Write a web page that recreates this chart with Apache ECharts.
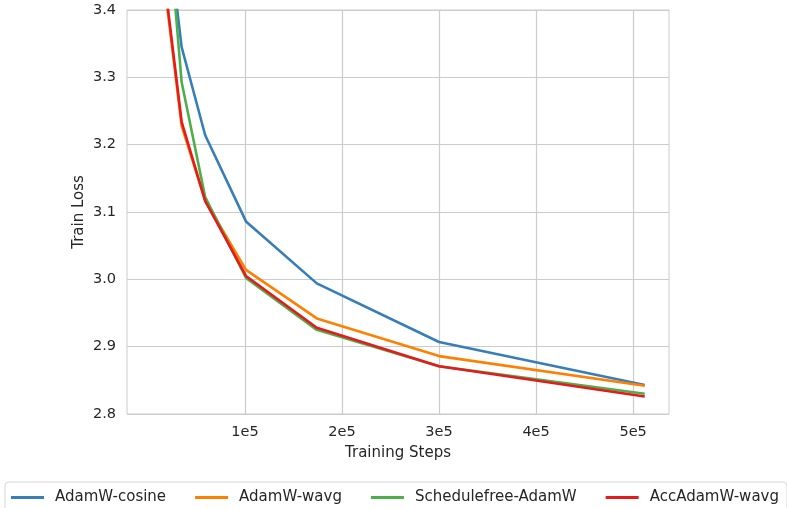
<!DOCTYPE html>
<html>
<head>
<meta charset="utf-8">
<script src="https://cdn.jsdelivr.net/npm/echarts@6/dist/echarts.min.js"></script>
<style>
  html, body { margin: 0; padding: 0; background: #fff; }
  #chart { width: 787px; height: 508px; }
</style>
</head>
<body>
<div id="chart"></div>
<script>
// training steps at which loss was logged
const steps = [11900, 20300, 34700, 59000, 101000, 174000, 300000, 512000];

const adamwCosine = [3.85, 3.52, 3.345, 3.214, 3.086, 2.994, 2.907, 2.843];
const adamwWavg = [3.70, 3.40, 3.228, 3.117, 3.014, 2.942, 2.886, 2.842];
const schedulefree = [3.80, 3.54, 3.293, 3.122, 3.002, 2.925, 2.871, 2.830];
const accAdamwWavg = [3.72, 3.405, 3.234, 3.116, 3.005, 2.928, 2.871, 2.826];

const xTicks = [100000, 200000, 300000, 400000, 500000];

const pairs = ys => steps.map((s, i) => [s, ys[i]]);

const font = 'DejaVu Sans';
const gridColor = '#cccccc';

const mkSeries = (name, ys, color) => ({
  name,
  type: 'line',
  data: pairs(ys),
  showSymbol: false,
  symbol: 'none',
  clip: true,
  lineStyle: { color, width: 2.6 },
  itemStyle: { color }
});

const myChart = echarts.init(document.querySelector('#chart'));

const option = {
  animation: false,
  backgroundColor: '#ffffff',
  grid: {
    left: 127,
    right: 118,
    top: 10,
    bottom: 94,
    show: true,
    borderColor: gridColor,
    borderWidth: 1
  },
  xAxis: {
    type: 'value',
    min: -21600,
    max: 537000,
    name: 'Training Steps',
    nameLocation: 'middle',
    nameGap: 32,
    nameTextStyle: { fontFamily: font, fontSize: 15, color: '#262626' },
    axisLine: { show: false },
    axisTick: { show: false, customValues: xTicks },
    axisLabel: {
      customValues: xTicks,
      fontFamily: font,
      fontSize: 14.5,
      color: '#262626',
      margin: 11,
      formatter: v => v / 1e5 + 'e5'
    },
    splitLine: { show: true, lineStyle: { color: gridColor, width: 1.2 } }
  },
  yAxis: {
    type: 'value',
    min: 2.8,
    max: 3.4,
    interval: 0.1,
    name: 'Train Loss',
    nameLocation: 'middle',
    nameGap: 40,
    nameMoveOverlap: false,
    nameTextStyle: { fontFamily: font, fontSize: 15, color: '#262626' },
    axisLine: { show: false },
    axisTick: { show: false },
    axisLabel: {
      fontFamily: font,
      fontSize: 14.5,
      color: '#262626',
      margin: 11,
      formatter: v => v.toFixed(1)
    },
    splitLine: { show: true, lineStyle: { color: gridColor, width: 1.2 } }
  },
  legend: {
    left: 5,
    top: 482,
    orient: 'horizontal',
    itemWidth: 33,
    itemHeight: 3,
    itemGap: 29,
    padding: [8, 8, 8, 6],
    borderColor: '#d6d6d6',
    borderWidth: 1,
    borderRadius: 4,
    backgroundColor: '#ffffff',
    icon: 'rect',
    textStyle: { fontFamily: font, fontSize: 15, color: '#262626', padding: [0, 0, 0, 6] },
    data: ['AdamW-cosine', 'AdamW-wavg', 'Schedulefree-AdamW', 'AccAdamW-wavg']
  },
  series: [
    mkSeries('AdamW-cosine', adamwCosine, '#377eb8'),
    mkSeries('AdamW-wavg', adamwWavg, '#ff7f00'),
    mkSeries('Schedulefree-AdamW', schedulefree, '#4daf4a'),
    mkSeries('AccAdamW-wavg', accAdamwWavg, '#e41a1c')
  ]
};

myChart.setOption(option);

window.addEventListener('resize', function() {
  myChart.resize();
});
</script>
</body>
</html>
